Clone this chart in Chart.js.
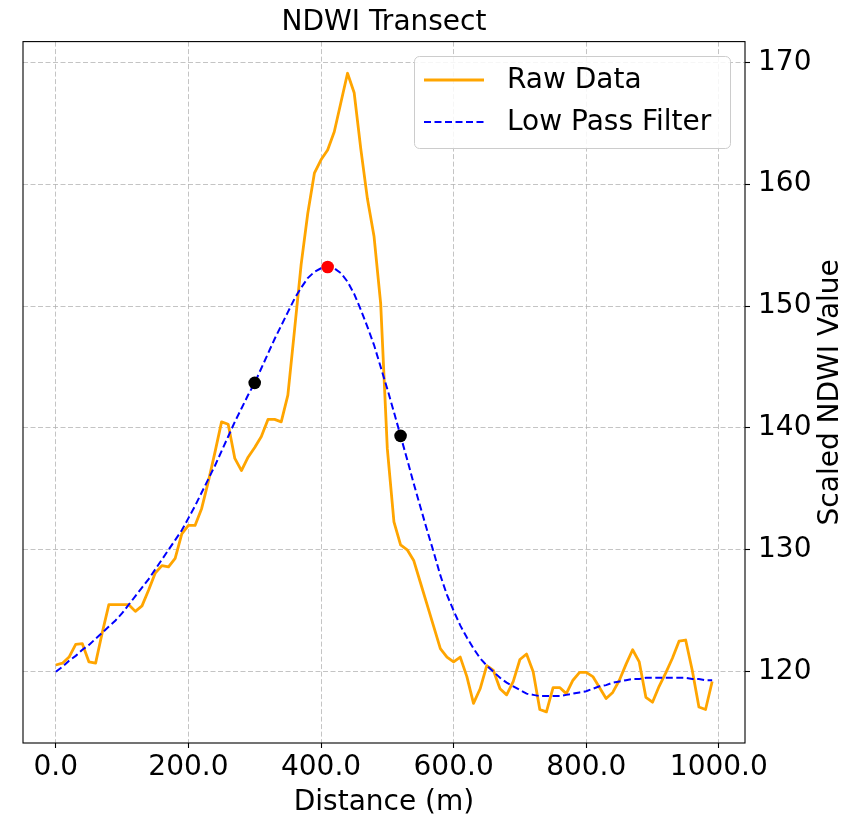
<!DOCTYPE html>
<html>
<head>
<meta charset="utf-8">
<script src="https://cdn.jsdelivr.net/npm/chart.js@4.4.1/dist/chart.umd.min.js"></script>
<style>
  html, body { margin: 0; padding: 0; background: #ffffff; }
  canvas { display: block; }
</style>
</head>
<body>
<canvas id="transect" width="854" height="818" style="width:854px;height:818px"></canvas>
<script>
// Sample positions along the transect (m)
const distance = [
  0, 10, 20, 30, 40, 50, 60, 70, 80, 90,
  100, 110, 120, 130, 140, 150, 160, 170, 180, 190,
  200, 210, 220, 230, 240, 250, 260, 270, 280, 290,
  300, 310, 320, 330, 340, 350, 360, 370, 380, 390,
  400, 410, 420, 430, 440, 450, 460, 470, 480, 490,
  500, 510, 520, 530, 540, 550, 560, 570, 580, 590,
  600, 610, 620, 630, 640, 650, 660, 670, 680, 690,
  700, 710, 720, 730, 740, 750, 760, 770, 780, 790,
  800, 810, 820, 830, 840, 850, 860, 870, 880, 890,
  900, 910, 920, 930, 940, 950, 960, 970, 980, 990
];

// Scaled NDWI, unfiltered
const rawData = [
  120.55, 120.7, 121.2, 122.25, 122.3, 120.8, 120.7, 123.2, 125.5, 125.5,
  125.5, 125.5, 124.95, 125.4, 126.7, 128.1, 128.7, 128.6, 129.3, 131.3,
  132.0, 132.0, 133.4, 135.6, 138.0, 140.5, 140.3, 137.5, 136.5, 137.6,
  138.4, 139.3, 140.7, 140.7, 140.5, 142.7, 148.0, 153.4, 157.6, 160.9,
  162.0, 162.8, 164.3, 166.7, 169.1, 167.5, 162.9, 158.8, 155.7, 150.2,
  138.3, 132.3, 130.4, 130.0, 129.1, 127.3, 125.5, 123.7, 121.9, 121.2,
  120.8, 121.2, 119.6, 117.4, 118.6, 120.5, 120.1, 118.6, 118.1, 119.2,
  121.0, 121.45, 120.0, 116.9, 116.7, 118.7, 118.7, 118.2, 119.3, 119.95,
  119.95, 119.6, 118.7, 117.8, 118.3, 119.3, 120.6, 121.8, 120.8, 117.9,
  117.5, 118.8, 119.9, 121.1, 122.5, 122.6, 120.1, 117.1, 116.9, 119.2
];

// Scaled NDWI after the low pass filter
const lowPass = [
  120.0, 120.4, 120.9, 121.3, 121.8, 122.2, 122.7, 123.2, 123.7, 124.2,
  124.8, 125.5, 126.2, 126.9, 127.6, 128.4, 129.2, 130.0, 130.8, 131.6,
  132.6, 133.6, 134.7, 135.8, 136.9, 138.1, 139.3, 140.5, 141.6, 142.7,
  143.7, 144.9, 146.1, 147.3, 148.4, 149.5, 150.6, 151.5, 152.3, 152.8,
  153.1, 153.2, 153.1, 152.7, 152.0, 151.0, 149.7, 148.3, 146.8, 145.0,
  143.2, 141.3, 139.35, 137.4, 135.4, 133.5, 131.6, 129.8, 127.9, 126.3,
  125.0, 123.8, 122.8, 121.9, 121.1, 120.5, 120.0, 119.5, 119.1, 118.8,
  118.5, 118.2, 118.1, 118.0, 118.0, 118.0, 118.0, 118.1, 118.2, 118.3,
  118.4, 118.6, 118.8, 118.9, 119.1, 119.2, 119.3, 119.4, 119.4, 119.5,
  119.5, 119.5, 119.5, 119.5, 119.5, 119.5, 119.4, 119.4, 119.3, 119.3
];

// Marked positions on the filtered curve (m)
const peakDistance = [410];
const edgeDistances = [300, 520];

// Axis ticks
const xTickValues = [0, 200, 400, 600, 800, 1000];
const xTickLabels = ['0.0', '200.0', '400.0', '600.0', '800.0', '1000.0'];
const yTickValues = [120, 130, 140, 150, 160, 170];
const yTickLabels = ['120', '130', '140', '150', '160', '170'];

const FONT = "'DejaVu Sans', 'Liberation Sans', sans-serif";
const FONT_SIZE = 28;

const toPoints = (xs, ys) => xs.map((x, i) => ({ x: x, y: ys[i] }));
const filteredAt = xs => xs.map(x => ({ x: x, y: lowPass[distance.indexOf(x)] }));

// Axis frame, in-plot legend and right-hand y label
const framePlugin = {
  id: 'framePlugin',
  afterDatasetsDraw(chart) {
    const { ctx, chartArea: a } = chart;
    ctx.save();
    ctx.strokeStyle = '#000000';
    ctx.lineWidth = 1.1;
    ctx.strokeRect(a.left, a.top, a.right - a.left, a.bottom - a.top);
    ctx.restore();
  },
  afterDraw(chart) {
    const { ctx, chartArea: a } = chart;
    const font = FONT_SIZE + 'px ' + FONT;

    // y axis title, reading bottom to top
    ctx.save();
    ctx.translate(831, (a.top + a.bottom) / 2);
    ctx.rotate(-Math.PI / 2);
    ctx.font = font;
    ctx.fillStyle = '#000000';
    ctx.textAlign = 'center';
    ctx.textBaseline = 'middle';
    ctx.fillText('Scaled NDWI Value', 0, 0);
    ctx.restore();

    // legend
    const entries = chart.data.datasets.filter(d => d.inLegend);
    entries.sort((p, q) => p.legendRank - q.legendRank);
    const box = { x: 414.5, y: 56.5, w: 316, h: 92, r: 5 };
    ctx.save();
    ctx.beginPath();
    ctx.roundRect(box.x, box.y, box.w, box.h, box.r);
    ctx.fillStyle = 'rgba(255,255,255,0.85)';
    ctx.fill();
    ctx.strokeStyle = '#cccccc';
    ctx.lineWidth = 1;
    ctx.stroke();
    entries.forEach((d, i) => {
      const yy = 80 + i * 42;
      ctx.beginPath();
      ctx.strokeStyle = d.borderColor;
      ctx.lineWidth = d.borderWidth;
      ctx.setLineDash(d.borderDash || []);
      ctx.moveTo(424, yy);
      ctx.lineTo(484, yy);
      ctx.stroke();
      ctx.setLineDash([]);
      ctx.font = font;
      ctx.fillStyle = '#000000';
      ctx.textAlign = 'left';
      ctx.textBaseline = 'middle';
      ctx.fillText(d.label, 507, yy + 0.5);
    });
    ctx.restore();
  }
};

const gridStyle = {
  display: true,
  drawOnChartArea: true,
  drawTicks: true,
  color: 'rgba(176,176,176,0.75)',
  lineWidth: 1,
  tickLength: 5,
  tickColor: '#000000',
  tickWidth: 1.1
};

new Chart(document.getElementById('transect'), {
  type: 'line',
  data: {
    datasets: [
      {
        label: 'Peak',
        data: filteredAt(peakDistance),
        showLine: false,
        pointRadius: 6.3,
        pointBackgroundColor: '#ff0000',
        pointBorderColor: '#ff0000',
        pointBorderWidth: 0,
        order: 0
      },
      {
        label: 'Edges',
        data: filteredAt(edgeDistances),
        showLine: false,
        pointRadius: 6.3,
        pointBackgroundColor: '#000000',
        pointBorderColor: '#000000',
        pointBorderWidth: 0,
        order: 0
      },
      {
        label: 'Low Pass Filter',
        data: toPoints(distance, lowPass),
        borderColor: '#0000ff',
        borderWidth: 2,
        borderDash: [7, 3.5],
        borderCapStyle: 'butt',
        pointRadius: 0,
        fill: false,
        tension: 0,
        order: 1,
        inLegend: true,
        legendRank: 1
      },
      {
        label: 'Raw Data',
        data: toPoints(distance, rawData),
        borderColor: '#ffa500',
        borderWidth: 2.8,
        borderJoinStyle: 'round',
        pointRadius: 0,
        fill: false,
        tension: 0,
        order: 2,
        inLegend: true,
        legendRank: 0
      }
    ]
  },
  options: {
    responsive: false,
    animation: false,
    devicePixelRatio: 1,
    events: [],
    layout: { padding: { left: 23, right: 0, top: 0, bottom: 0 } },
    plugins: {
      legend: { display: false },
      tooltip: { enabled: false },
      title: {
        display: true,
        text: 'NDWI Transect',
        fullSize: false,
        color: '#000000',
        font: { family: FONT, size: FONT_SIZE, weight: 'normal', lineHeight: 1.2 },
        padding: { top: 6, bottom: 2 }
      }
    },
    scales: {
      x: {
        type: 'linear',
        min: -49.5,
        max: 1039.5,
        afterBuildTicks: s => { s.ticks = xTickValues.map(v => ({ value: v })); },
        afterFit: s => { s.height = 75; },
        grid: gridStyle,
        border: { display: false, dash: [5, 2.5] },
        ticks: {
          autoSkip: false,
          maxRotation: 0,
          padding: 3,
          color: '#000000',
          font: { family: FONT, size: FONT_SIZE, lineHeight: 1.2 },
          callback: v => xTickLabels[xTickValues.indexOf(v)]
        },
        title: {
          display: true,
          text: 'Distance (m)',
          color: '#000000',
          font: { family: FONT, size: FONT_SIZE, lineHeight: 1.2 },
          padding: { top: 0, bottom: -2 }
        }
      },
      y: {
        type: 'linear',
        position: 'right',
        min: 114.15,
        max: 171.7,
        afterBuildTicks: s => { s.ticks = yTickValues.map(v => ({ value: v })); },
        afterFit: s => { s.width = 109; },
        grid: gridStyle,
        border: { display: false, dash: [5, 2.5] },
        ticks: {
          autoSkip: false,
          padding: 8,
          color: '#000000',
          font: { family: FONT, size: FONT_SIZE, lineHeight: 1.2 },
          callback: v => yTickLabels[yTickValues.indexOf(v)]
        }
      }
    }
  },
  plugins: [framePlugin]
});
</script>
</body>
</html>
